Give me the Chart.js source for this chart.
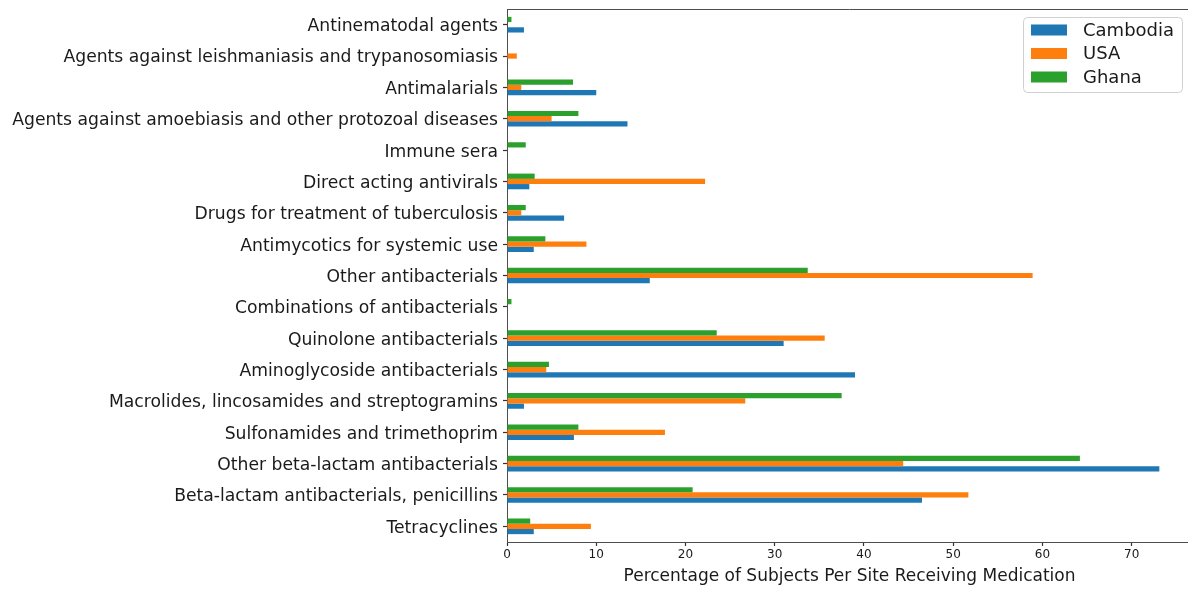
<!DOCTYPE html>
<html>
<head>
<meta charset="utf-8">
<script src="https://cdn.jsdelivr.net/npm/chart.js@4/dist/chart.umd.min.js"></script>
<style>
html, body { margin: 0; padding: 0; background: #fff; overflow: hidden; }
#wrap { width: 1194px; height: 589px; }
</style>
</head>
<body>
<div id="wrap"><canvas id="myChart" width="1194" height="589"></canvas></div>
<script>
var categories = [
    "Antinematodal agents",
    "Agents against leishmaniasis and trypanosomiasis",
    "Antimalarials",
    "Agents against amoebiasis and other protozoal diseases",
    "Immune sera",
    "Direct acting antivirals",
    "Drugs for treatment of tuberculosis",
    "Antimycotics for systemic use",
    "Other antibacterials",
    "Combinations of antibacterials",
    "Quinolone antibacterials",
    "Aminoglycoside antibacterials",
    "Macrolides, lincosamides and streptogramins",
    "Sulfonamides and trimethoprim",
    "Other beta-lactam antibacterials",
    "Beta-lactam antibacterials, penicillins",
    "Tetracyclines"
];
var cambodia = [1.9, 0, 10.0, 13.5, 0, 2.5, 6.4, 3.0, 16.0, 0, 31.0, 39.0, 1.9, 7.5, 73.1, 46.5, 3.0];
var usa      = [0, 1.1, 1.6, 5.0, 0, 22.2, 1.6, 8.9, 58.9, 0, 35.6, 4.4, 26.7, 17.7, 44.4, 51.7, 9.4];
var ghana    = [0.5, 0, 7.4, 8.0, 2.1, 3.1, 2.1, 4.3, 33.7, 0.5, 23.5, 4.7, 37.5, 8.0, 64.2, 20.8, 2.6];
var xTicks = [0, 10, 20, 30, 40, 50, 60, 70];

var textColor = "#1a1a1a";
var spineColor = "#4d4d4d";

// top spine + legend inside the axes, matplotlib style
var framePlugin = {
    id: "frame",
    afterDraw: function(chart) {
        var c = chart.ctx, a = chart.chartArea;
        c.save();
        c.strokeStyle = spineColor;
        c.lineWidth = 1;
        c.beginPath();
        c.moveTo(a.left, a.top + 0.5);
        c.lineTo(a.right, a.top + 0.5);
        c.stroke();

        var x = 1023.5, y = 17.5, w = 159, h = 75, r = 4;
        c.fillStyle = "rgba(255,255,255,0.8)";
        c.strokeStyle = "#d0d0d0";
        c.beginPath();
        c.roundRect(x, y, w, h, r);
        c.fill();
        c.stroke();

        var order = chart.data.datasets.slice().reverse();
        c.font = "18px 'DejaVu Sans'";
        c.textBaseline = "middle";
        c.textAlign = "left";
        order.forEach(function(ds, i) {
            var cy = 30 + i * 23.5;
            c.fillStyle = ds.backgroundColor;
            c.fillRect(1031, cy - 5.5, 36, 11);
            c.fillStyle = textColor;
            c.fillText(ds.label, 1083, cy + 1);
        });
        c.restore();
    }
};

myChart = new Chart(document.getElementById("myChart"), {
    type: "bar",
    data: {
        labels: categories,
        datasets: [
            { label: "Ghana", data: ghana, backgroundColor: "#2ca02c" },
            { label: "USA", data: usa, backgroundColor: "#ff7f0e" },
            { label: "Cambodia", data: cambodia, backgroundColor: "#1f77b4" }
        ]
    },
    options: {
        indexAxis: "y",
        responsive: false,
        animation: false,
        layout: { padding: { top: 9, right: 2, left: 0, bottom: 0 } },
        datasets: { bar: { categoryPercentage: 0.5, barPercentage: 1.0 } },
        plugins: {
            legend: { display: false },
            tooltip: { enabled: false }
        },
        scales: {
            y: {
                afterFit: function(s) { s.width = 507; s.paddingTop = 0; s.paddingBottom = 0; },
                grid: { display: true, offset: false, drawOnChartArea: false, tickLength: 4, tickWidth: 1.2, tickColor: "#333" },
                border: { display: true, color: spineColor },
                ticks: { color: textColor, padding: 5, labelOffset: 2, autoSkip: false, font: { family: "DejaVu Sans", size: 17.2 } }
            },
            x: {
                min: 0,
                max: 76.76,
                afterFit: function(s) { s.height = 47; s.paddingLeft = 0; s.paddingRight = 0; },
                afterBuildTicks: function(s) { s.ticks = xTicks.map(function(v) { return { value: v }; }); },
                grid: { display: true, drawOnChartArea: false, tickLength: 4, tickWidth: 1.2, tickColor: "#333" },
                border: { display: true, color: spineColor },
                ticks: { color: textColor, padding: 2, font: { family: "DejaVu Sans", size: 12 } },
                title: {
                    display: true,
                    text: "Percentage of Subjects Per Site Receiving Medication",
                    color: textColor,
                    padding: { top: 0, bottom: 2 },
                    font: { family: "DejaVu Sans", size: 17 }
                }
            }
        }
    },
    plugins: [framePlugin]
});
</script>
</body>
</html>
